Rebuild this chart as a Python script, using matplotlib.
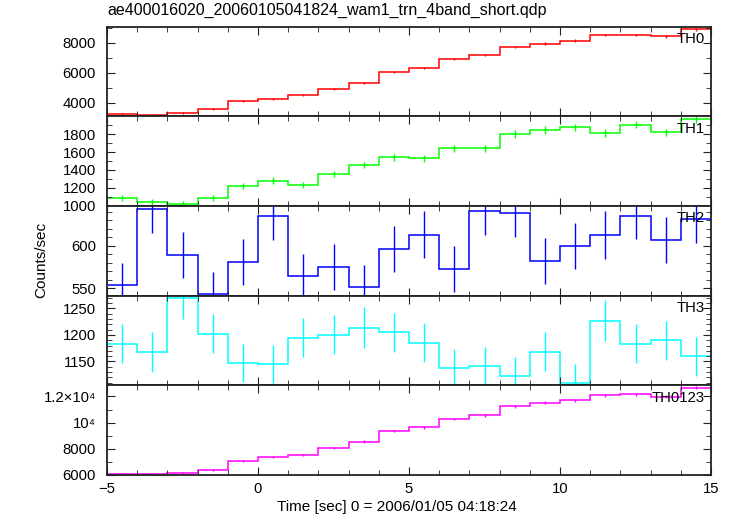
import numpy as np
import matplotlib
matplotlib.use("Agg")
import matplotlib.pyplot as plt
from matplotlib.ticker import MultipleLocator, FixedLocator, FixedFormatter

plt.rcParams['font.family'] = ['Liberation Sans', 'DejaVu Sans']
plt.rcParams['font.size'] = 10.7

# 1-sec bins from -5 to 15
edges = np.arange(-5, 16, 1)
centers = edges[:-1] + 0.5

th0 = [3250, 3220, 3350, 3580, 4130, 4290, 4550, 4910, 5350, 6050,
       6310, 6910, 7200, 7710, 7950, 8130, 8510, 8510, 8420, 8910]
th0_err = [57, 57, 58, 60, 64, 65, 67, 70, 73, 78,
           79, 83, 85, 88, 89, 90, 92, 92, 92, 94]

th1 = [1085, 1044, 1015, 1082, 1223, 1279, 1227, 1353, 1454, 1543,
       1528, 1640, 1643, 1803, 1845, 1875, 1811, 1908, 1819, 1968]
th1_err = [33, 32, 32, 33, 35, 36, 35, 37, 38, 39,
           39, 41, 41, 42, 43, 43, 43, 44, 43, 44]

th2 = [553.6, 642.7, 588.7, 542.6, 580.5, 634.8, 564.1, 574.7, 551.2, 596.5,
       612.9, 572.3, 641.0, 638.0, 581.7, 599.3, 612.2, 635.2, 607.0, 631.3]
th2_err = [26, 28, 27, 26, 27, 28, 26, 27, 26, 27,
           28, 27, 28, 28, 27, 27, 28, 28, 27, 28]

th3 = [1183.8, 1168.0, 1268.8, 1202.6, 1147.0, 1144.5, 1195.0, 1200.6, 1213.8, 1205.0,
       1185.7, 1137.0, 1141.3, 1122.6, 1168.8, 1108.9, 1227.0, 1183.8, 1190.0, 1160.0]
th3_err = [37, 37, 38, 37, 36, 36, 37, 37, 38, 37,
           37, 36, 36, 36, 37, 36, 38, 37, 37, 37]

th0123 = [6054, 6050, 6177, 6361, 7053, 7361, 7515, 8053, 8538, 9361,
          9640, 10282, 10563, 11256, 11513, 11717, 12102, 12154, 11974, 12667]
th0123_err = [78, 78, 79, 80, 84, 86, 87, 90, 92, 97,
              98, 101, 103, 106, 107, 108, 110, 110, 109, 113]

panels = [
    ("TH0", th0, th0_err, "#ff0000", (3100, 9060)),
    ("TH1", th1, th1_err, "#00ff00", (995, 1998)),
    ("TH2", th2, th2_err, "#0000ff", (541, 646.5)),
    ("TH3", th3, th3_err, "#00ffff", (1105, 1274)),
    ("TH0123", th0123, th0123_err, "#ff00ff", (5990, 12850)),
]

fig, axes = plt.subplots(5, 1, sharex=True, figsize=(7.33, 5.16), dpi=100)
fig.subplots_adjust(left=0.146, right=0.970, top=0.948, bottom=0.0795, hspace=0)

for ax, (name, vals, errs, col, ylim) in zip(axes, panels):
    ax.stairs(vals, edges, color=col, linewidth=1.1, baseline=None)
    ax.errorbar(centers, vals, yerr=errs, fmt='none', ecolor=col, elinewidth=1.0, capsize=0)
    ax.set_ylim(*ylim)
    ax.set_xlim(-5, 15)
    ax.text(0.99, 0.94, name, transform=ax.transAxes, ha='right', va='top', fontsize=10.7)
    for s in ax.spines.values():
        s.set_linewidth(1.3)
        s.set_color("#222222")
    ax.tick_params(which='both', direction='in', top=True, right=True, labelsize=10.7, colors="#222222")
    ax.tick_params(which='major', length=6)
    ax.tick_params(which='minor', length=3.5)
    ax.tick_params(labelcolor='black')
    ax.tick_params(axis='y', which='major', pad=8)
    ax.tick_params(axis='x', which='major', pad=5)
    ax.xaxis.set_major_locator(MultipleLocator(5))
    ax.xaxis.set_minor_locator(MultipleLocator(1))

axes[0].yaxis.set_major_locator(MultipleLocator(2000))
axes[0].yaxis.set_minor_locator(MultipleLocator(1000))
axes[1].yaxis.set_major_locator(MultipleLocator(200))
axes[1].yaxis.set_minor_locator(MultipleLocator(100))
axes[2].yaxis.set_major_locator(MultipleLocator(50))
axes[2].yaxis.set_minor_locator(MultipleLocator(10))
axes[3].yaxis.set_major_locator(MultipleLocator(50))
axes[3].yaxis.set_minor_locator(MultipleLocator(10))
axes[4].yaxis.set_major_locator(FixedLocator([6000, 8000, 10000, 12000]))
axes[4].yaxis.set_major_formatter(FixedFormatter(["6000", "8000", "10⁴", "1.2×10⁴"]))
axes[4].yaxis.set_minor_locator(MultipleLocator(1000))

fig.text(0.542, 0.018, "Time [sec] 0 = 2006/01/05 04:18:24", ha='center', va='center', fontsize=11)
fig.text(0.056, 0.496, "Counts/sec", rotation=90, ha='center', va='center', fontsize=11)
fig.text(0.146, 0.966, "ae400016020_20060105041824_wam1_trn_4band_short.qdp",
         ha='left', va='bottom', fontsize=11.5)

fig.savefig("out.png", dpi=100)
